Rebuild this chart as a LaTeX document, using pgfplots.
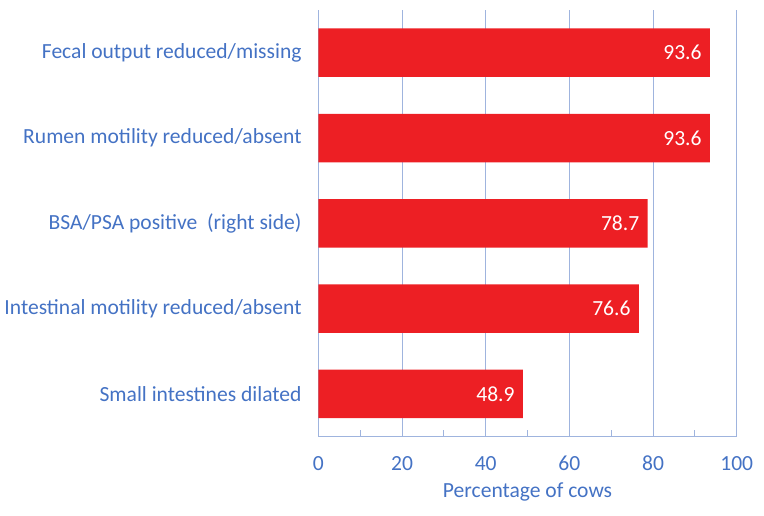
\documentclass[border=0pt]{standalone}
\usepackage{pgfplots}
\pgfplotsset{compat=1.18}
\usepackage{fontspec}
\setmainfont{Carlito}
\definecolor{barred}{HTML}{ED1F24}
\definecolor{txtblue}{HTML}{4472C4}
\definecolor{gridblue}{HTML}{9FB4DE}

\begin{document}
\begin{tikzpicture}
\begin{axis}[
    name=ax,
    xbar,
    bar width=36pt,
    scale only axis,
    width=310.5pt,
    height=316.5pt,
    xmin=0, xmax=100,
    ymin=-0.5, ymax=4.5,
    ytick={0,1,2,3,4},
    yticklabels={Small intestines dilated,
                 Intestinal motility reduced/absent,
                 BSA/PSA positive\ \ (right side),
                 Rumen motility reduced/absent,
                 Fecal output reduced/missing},
    xtick={0,20,...,100},
    minor xtick={10,30,...,90},
    xmajorgrids,
    major grid style={gridblue, line width=0.7pt},
    axis x line*=bottom,
    axis y line*=left,
    axis line style={gridblue, line width=0.7pt},
    major tick length=0pt,
    minor tick length=5pt,
    minor tick style={gridblue, line width=0.7pt},
    ytick style={draw=none},
    /pgf/number format/assume math mode=true,
    tick label style={font=\fontsize{16}{19}\selectfont, text=txtblue},
    yticklabel style={xshift=-9pt},
    xticklabel style={yshift=-11pt},
    xlabel={Percentage of cows},
    xlabel style={font=\fontsize{16}{19}\selectfont, text=txtblue, yshift=-2pt},
    point meta=x,
    nodes near coords,
    nodes near coords style={/pgf/number format/fixed,
        /pgf/number format/fixed zerofill,
        /pgf/number format/precision=1},
    every node near coord/.append style={anchor=east, text=white, inner sep=0pt, xshift=-6pt,
        font=\fontsize{16}{19}\selectfont},
]
\addplot[fill=barred, draw=none] coordinates {(48.9,0) (76.6,1) (78.7,2) (93.6,3) (93.6,4)};
\end{axis}
\path (ax.south west) ++(-236.25pt,-58.5pt);
\path (ax.north east) ++(20.25pt,7.5pt);
\end{tikzpicture}
\end{document}
